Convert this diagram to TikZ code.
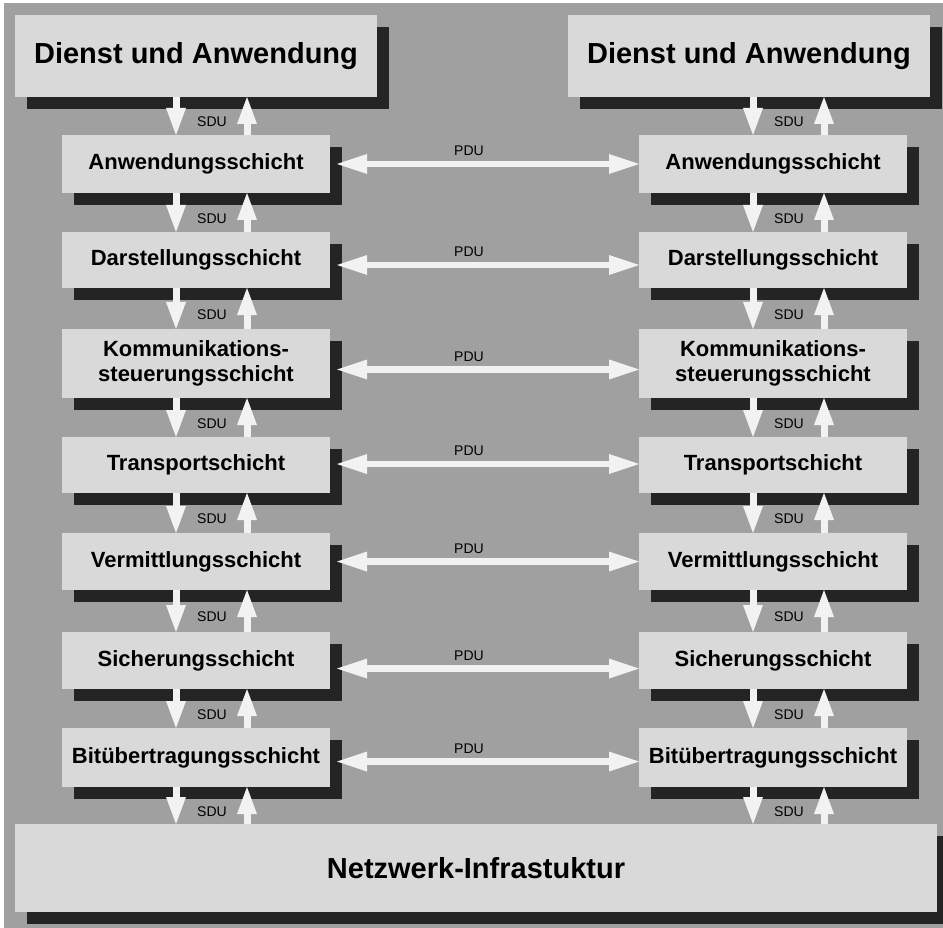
\documentclass[tikz,border=0pt]{standalone}
\usepackage{fontspec}
\setmainfont{Liberation Sans}
\usetikzlibrary{calc,positioning,arrows.meta,shadows}
\definecolor{bggray}{HTML}{A0A0A0}
\definecolor{boxgray}{HTML}{D9D9D9}
\definecolor{shadowgray}{HTML}{242424}
\definecolor{arrowwhite}{HTML}{F2F2F2}

\begin{document}
\begin{tikzpicture}[x=1pt,y=-1pt,
    box/.style={fill=boxgray,inner sep=0pt,outer sep=0pt,align=center,
      drop shadow={shadow xshift=12pt,shadow yshift=-12pt,fill=shadowgray,opacity=1}},
    bigbox/.style={box,minimum width=362pt,minimum height=82pt,font=\bfseries\fontsize{29}{33}\selectfont},
    layerbox/.style={box,minimum width=268pt,font=\bfseries\fontsize{22}{25}\selectfont},
    sdu/.style={draw=arrowwhite,line width=7pt,-{Triangle[width=20pt,length=27pt,line width=0pt]}},
    pdu/.style={draw=arrowwhite,line width=6.5pt,
      {Triangle[width=20pt,length=30pt,line width=0pt]}-{Triangle[width=20pt,length=30pt,line width=0pt]}},
    lbl/.style={font=\fontsize{14}{16}\selectfont,inner sep=0pt}]
  \useasboundingbox (0,0) rectangle (943,928);
  \fill[bggray] (4,3) rectangle (943,928);
  % Dienste oben, Netz unten
  \node[bigbox] (Ltop) at (196,56) {Dienst und Anwendung};
  \node[bigbox] (Rtop) at (749,56) {Dienst und Anwendung};
  \node[box,minimum width=922pt,minimum height=88pt,font=\bfseries\fontsize{29}{33}\selectfont]
    (netz) at (476,868) {Netzwerk-Infrastuktur};
  % die sieben Schichten
  \foreach \n/\t/\y/\h in {anw/Anwendungsschicht/164/58,dar/Darstellungsschicht/260/56,
      kom/{Kommunikations-\\steuerungsschicht}/363.5/69,tra/Transportschicht/465/56,
      ver/Vermittlungsschicht/561.5/57,sic/Sicherungsschicht/660.5/57,
      bit/Bitübertragungsschicht/757.5/59}{
    \node[layerbox,minimum height=\h pt] (L\n) at (196,\y) {\t};
    \node[layerbox,minimum height=\h pt] (R\n) at (773,\y) {\t};
  }
  \coordinate (Ldn) at (176,0);
  \coordinate (Lup) at (247,0);
  \coordinate (Rdn) at (753,0);
  \coordinate (Rup) at (824,0);
  % SDU zwischen den Schichten
  \foreach \s in {L,R}{
    \foreach \a/\b in {top/anw,anw/dar,dar/kom,kom/tra,tra/ver,ver/sic,sic/bit}{
      \draw[sdu] (\s\a.south -| \s dn) -- (\s\b.north -| \s dn)
        node[lbl,midway,xshift=36pt,yshift=-6pt] {SDU};
      \draw[sdu] (\s\b.north -| \s up) -- (\s\a.south -| \s up);
    }
    \draw[sdu] (\s bit.south -| \s dn) -- (netz.north -| \s dn)
      node[lbl,midway,xshift=36pt,yshift=-6pt] {SDU};
    \draw[sdu] (netz.north -| \s up) -- (\s bit.south -| \s up);
  }
  % PDU zwischen den Instanzen
  \foreach \n/\d in {anw/0,dar/5,kom/6,tra/-1,ver/0,sic/8,bit/4}{
    \draw[pdu] ([shift={(7,\d)}]L\n.east) -- ([shift={(0,\d)}]R\n.west)
      node[lbl,pos=0.437,yshift=13pt] {PDU};
  }
\end{tikzpicture}
\end{document}
